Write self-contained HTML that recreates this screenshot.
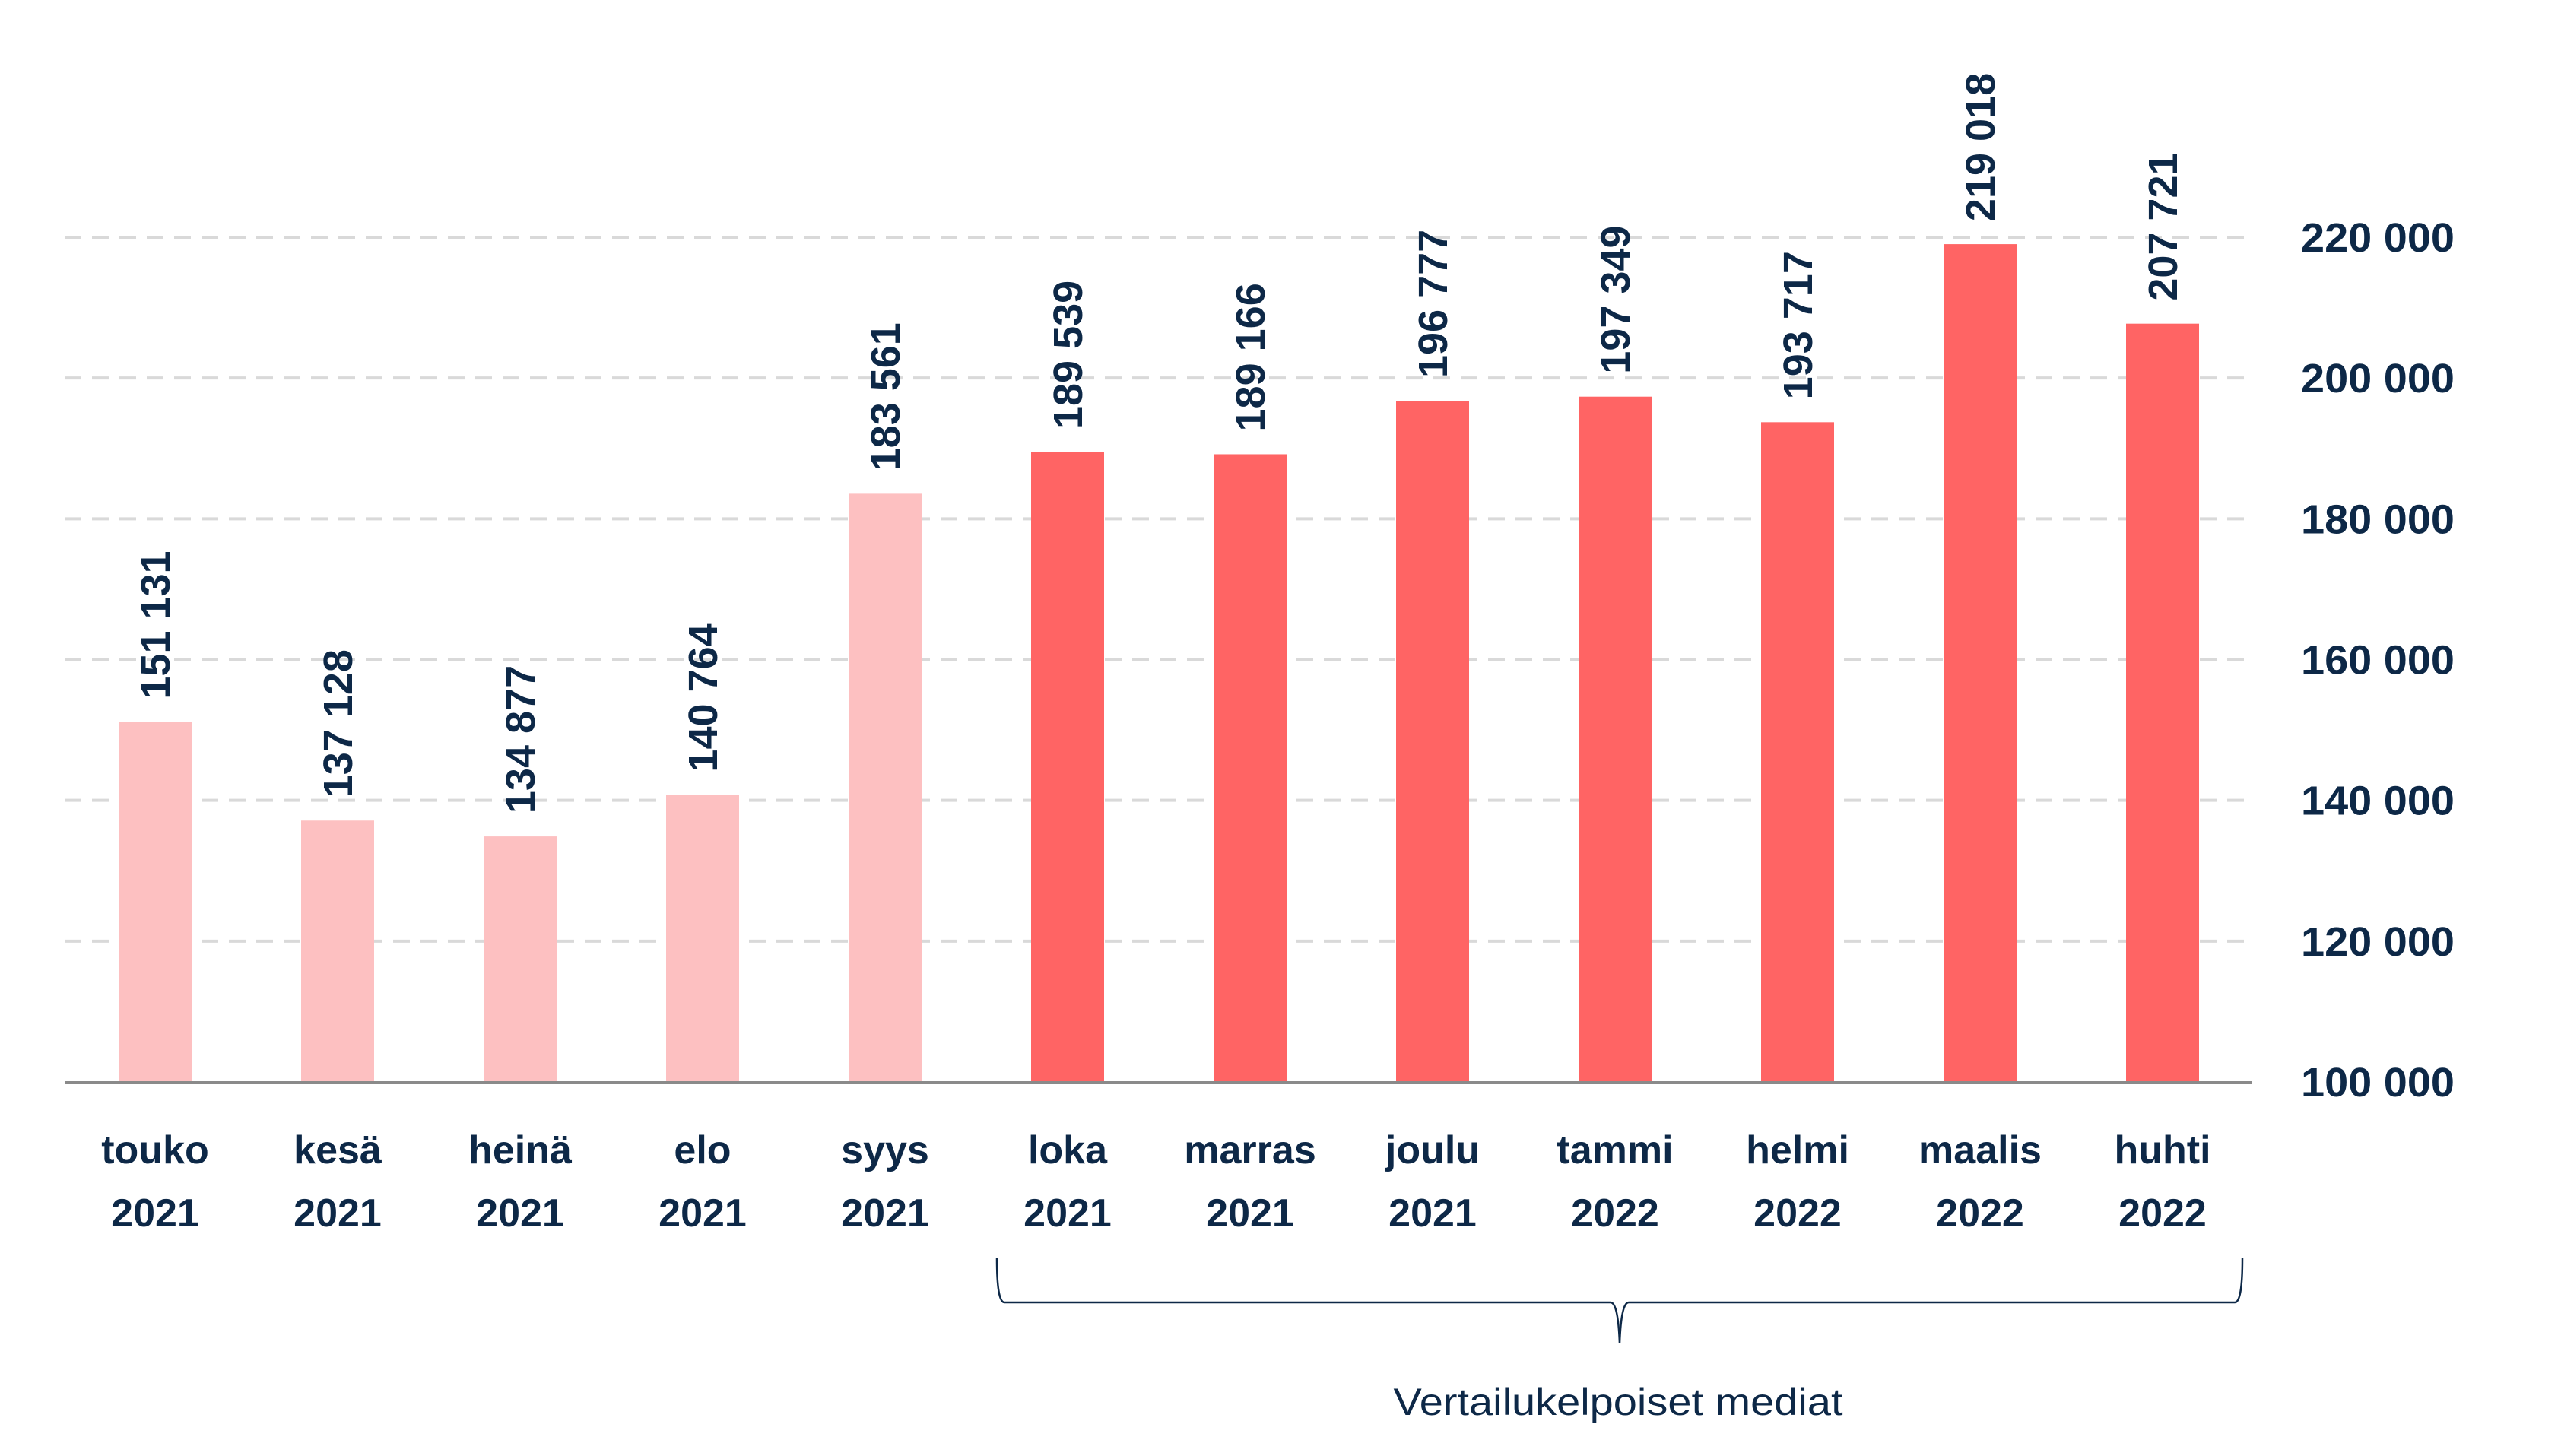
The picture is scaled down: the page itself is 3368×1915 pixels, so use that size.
<!DOCTYPE html>
<html><head><meta charset="utf-8"><style>
html,body{margin:0;padding:0;background:#fff;}
svg{display:block;font-family:"Liberation Sans",sans-serif;}
</style></head><body>
<svg id="chart" width="3368" height="1915" viewBox="0 0 3368 1915" xmlns="http://www.w3.org/2000/svg">
<g id="grid"></g>
<g id="bars"></g>
<g id="vals"></g>
<g id="xlabels"></g>
<g id="ylabels"></g>
<line x1="85" y1="1424" x2="2962" y2="1424" stroke="#8a8a8a" stroke-width="4"/>
<path d="M1311 1655 Q1311 1713 1321 1713 L2118 1713 Q2128 1713 2130 1767 Q2132 1713 2142 1713 L2939 1713 Q2949 1713 2949 1655" fill="none" stroke="#0d2847" stroke-width="2.5"/>
<text x="2128" y="1861" text-anchor="middle" font-size="50" fill="#0d2847" textLength="591" lengthAdjust="spacingAndGlyphs">Vertailukelpoiset mediat</text>
</svg>
<script>
const months = ["touko","kesä","heinä","elo","syys","loka","marras","joulu","tammi","helmi","maalis","huhti"];
const years = ["2021","2021","2021","2021","2021","2021","2021","2021","2022","2022","2022","2022"];
const values = [151131,137128,134877,140764,183561,189539,189166,196777,197349,193717,219018,207721];
const comparable = [false,false,false,false,false,true,true,true,true,true,true,true];
const yTicks = [100000,120000,140000,160000,180000,200000,220000];
const yTickLabels = ["100 000","120 000","140 000","160 000","180 000","200 000","220 000"];

const NS="http://www.w3.org/2000/svg";
const yMin=100000,yMax=220000,yBase=1423,yTop=312;
function yScale(v){return yBase-(v-yMin)*(yBase-yTop)/(yMax-yMin);}
function xScale(i){return 204+i*240;}
function fmt(v){return String(v).replace(/\B(?=(\d{3})+(?!\d))/g," ");}
function mk(tag,attrs,parent){const e=document.createElementNS(NS,tag);for(const k in attrs)e.setAttribute(k,attrs[k]);parent.appendChild(e);return e;}

const grid=document.getElementById('grid'),bars=document.getElementById('bars'),vals=document.getElementById('vals'),xl=document.getElementById('xlabels'),yl=document.getElementById('ylabels');
yTicks.forEach((t,i)=>{
  const y=yScale(t);
  if(i>0){
    const l=mk('line',{x1:85,x2:2962,y1:y,y2:y,stroke:'#d9d9d9','stroke-width':4,'stroke-dasharray':'22 14'},grid);
    
    
  }
  const tx=mk('text',{x:3228,y:y+19,'text-anchor':'end','font-size':54,'font-weight':'bold',fill:'#0d2847',textLength:202,lengthAdjust:'spacingAndGlyphs'},yl);
  tx.textContent=yTickLabels[i];
  
  
});
values.forEach((v,i)=>{
  const cx=xScale(i),y=yScale(v);
  const r=mk('rect',{x:cx-48,y:y,width:96,height:yBase-y,fill:comparable[i]?'#ff6464':'#fdc0c1'},bars);
  
  
  const t=mk('text',{x:0,y:0,transform:`translate(${cx+19},${y-30}) rotate(-90)`,'font-size':54,'font-weight':'bold',fill:'#0d2847'},vals);
  t.textContent=fmt(v);
  
  
  const m=mk('text',{x:cx,y:1530,'text-anchor':'middle','font-size':52,'font-weight':'bold',fill:'#0d2847'},xl);
  m.textContent=months[i];
  
  
  const yr=mk('text',{x:cx,y:1613,'text-anchor':'middle','font-size':52,'font-weight':'bold',fill:'#0d2847'},xl);
  yr.textContent=years[i];
  
  
});
</script>
</body></html>
